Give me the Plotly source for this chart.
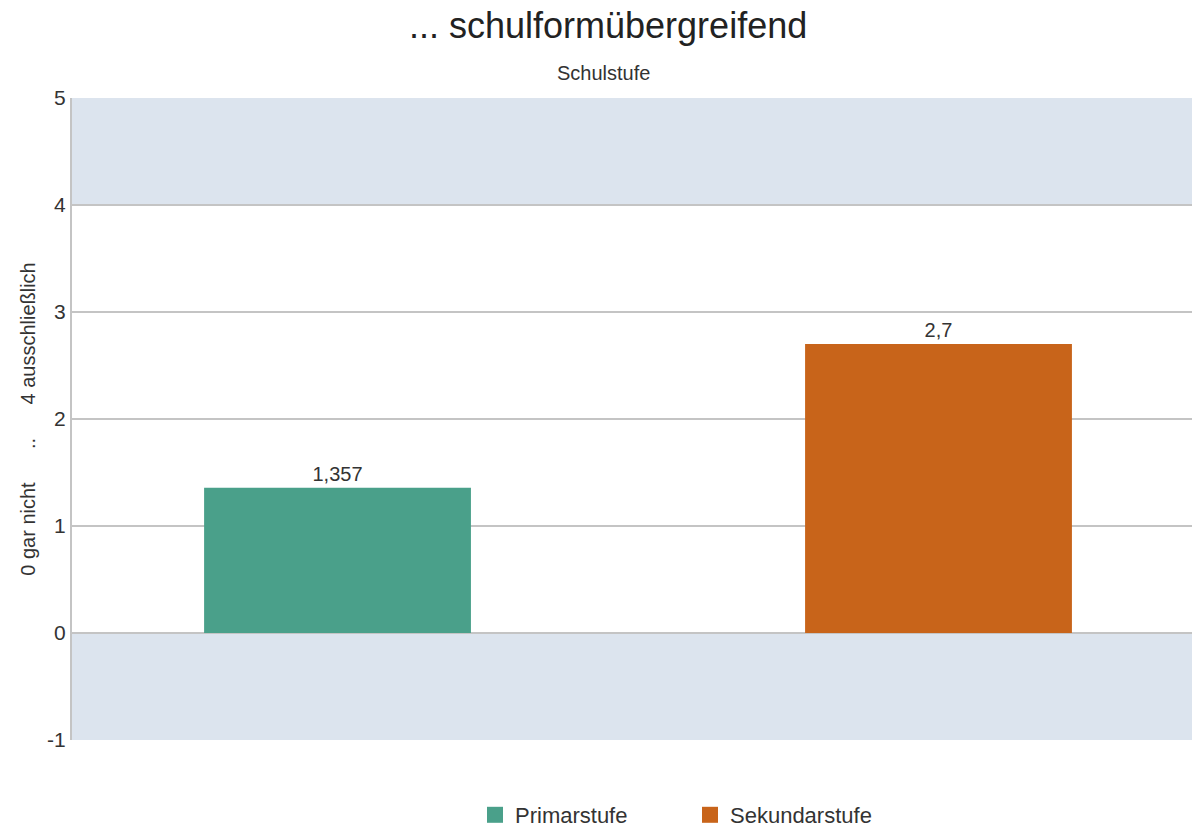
import plotly.graph_objects as go

categories = ["Primarstufe", "Sekundarstufe"]
values = [1.357, 2.7]
colors = ["#4aa08a", "#c8641a"]
y_ticks = [-1, 0, 1, 2, 3, 4, 5]
y_ticklabels = ["-1", "0", "1", "2", "3", "4", "5"]
reference_value = 2
title_text = "... schulformübergreifend"
subtitle_text = "Schulstufe"
y_title = "0 gar nicht\u00a0\u00a0\u00a0\u00a0\u00a0\u00a0..\u00a0\u00a0\u00a0\u00a0\u00a0\u00a04 ausschließlich"

FONT = "Liberation Sans, Arial, sans-serif"
W, H = 1192, 836
L, R, T, B = 72, 0, 98, 96

fig = go.Figure()
for i, (cat, val, col) in enumerate(zip(categories, values, colors)):
    fig.add_trace(go.Bar(
        x=[i], y=[val], name=cat, marker=dict(color=col, line=dict(width=0)),
        width=0.444, texttemplate="%{y}", textposition="outside",
        textfont=dict(size=20, color="#333333", family=FONT), cliponaxis=False,
        showlegend=False,
    ))
    # legend entry with a large square swatch
    fig.add_trace(go.Scatter(
        x=[None], y=[None], mode="markers", name=cat,
        marker=dict(symbol="square", size=20, color=col), showlegend=True,
    ))

# shaded bands
fig.add_shape(type="rect", xref="paper", yref="y", x0=0, x1=1, y0=4, y1=5,
              fillcolor="#dce4ee", line=dict(width=0), layer="below")
fig.add_shape(type="rect", xref="paper", yref="y", x0=0, x1=1, y0=-1, y1=0,
              fillcolor="#dce4ee", line=dict(width=0), layer="below")
# reference line
fig.add_shape(type="line", xref="paper", yref="y", x0=0, x1=1,
              y0=reference_value, y1=reference_value,
              line=dict(color="#c0282d", width=1.5), layer="between")

pw, ph = W - L - R, H - T - B


def px_to_paper(px, py):
    return (px - L) / pw, 1 + (T - py) / ph


tx, ty = px_to_paper(608, 25)
sx, sy = px_to_paper(603, 73)

fig.update_layout(
    width=W, height=H,
    margin=dict(l=L, r=R, t=T, b=B),
    paper_bgcolor="white", plot_bgcolor="white",
    separators=",.",
    barmode="overlay",
    font=dict(family=FONT, color="#333333"),
    showlegend=True,
    legend=dict(orientation="h", x=690 / W, xref="container", xanchor="center",
                y=0, yref="container", yanchor="bottom",
                font=dict(size=22, color="#333333", family=FONT),
                itemsizing="trace", traceorder="normal", entrywidth=170),
    annotations=[
        dict(text=title_text, x=tx, xref="paper", y=ty, yref="paper", xanchor="center",
             yanchor="middle", showarrow=False, font=dict(size=36, color="#222222", family=FONT)),
        dict(text=subtitle_text, x=sx, xref="paper", y=sy, yref="paper", xanchor="center",
             yanchor="middle", showarrow=False, font=dict(size=20, color="#333333", family=FONT)),
    ],
)

fig.update_xaxes(type="linear", range=[-0.4418, 1.4218], showgrid=False, showticklabels=False,
                 zeroline=False, showline=False, ticks="")
fig.update_yaxes(range=[-1, 5], tickvals=y_ticks, ticktext=y_ticklabels, showgrid=True,
                 gridcolor="#c4c4c4", gridwidth=2,
                 zeroline=False, showline=True, linecolor="#c4c4c4", linewidth=2,
                 tickfont=dict(size=21, color="#333333", family=FONT), ticks="",
                 title=dict(text=y_title, font=dict(size=20, color="#333333", family=FONT), standoff=6))

fig.write_html("out.html", config={"displayModeBar": False},
               post_script="document.body.style.margin='0';document.body.style.overflow='hidden';")
